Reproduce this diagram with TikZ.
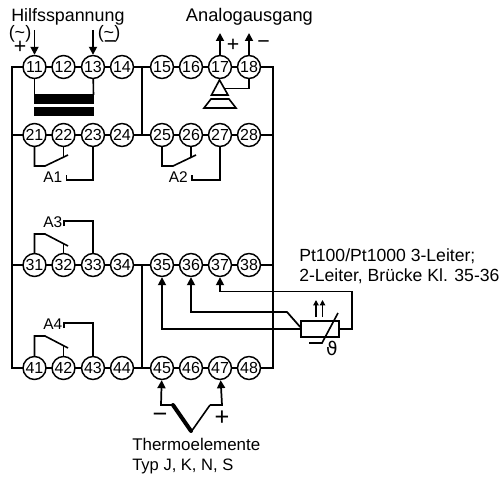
\documentclass[tikz,border=0pt]{standalone}
\usepackage{fontspec}
\setmainfont{Liberation Sans}
\newfontfamily\dejavu{DejaVu Sans}
\usetikzlibrary{arrows.meta}
\tikzset{
  term/.style={circle,draw,line width=1.1pt,fill=white,minimum size=17.2pt,inner sep=0pt,font=\fontsize{12}{12}\selectfont},
  wire/.style={line width=1.2pt},
  arr/.style={line width=1.3pt,-{Triangle[length=6pt,width=6pt]}},
  lbl/.style={inner sep=0pt,anchor=base west},
  rel/.style={lbl,font=\fontsize{11.6}{13}\selectfont},
  sgn/.style={inner sep=0pt,font=\fontsize{16}{16}\selectfont},
  sgnb/.style={inner sep=0pt,font=\fontsize{19}{19}\selectfont},
  tld/.style={inner sep=0pt,font=\fontsize{13.5}{13.5}\selectfont}
}
\begin{document}
\begin{tikzpicture}[x=0.75pt,y=-0.75pt]
\useasboundingbox (0,0) rectangle (503,478);
\foreach \n/\x/\y in {11/34.5/67,12/63.5/67,13/93/67,14/122/67,15/162/67,16/191/67,17/220/67,18/249/67,
 21/34.5/135,22/63.5/135,23/93/135,24/122/135,25/162/135,26/191/135,27/220/135,28/249/135,
 31/34.5/265,32/63.5/265,33/93/265,34/122/265,35/162/265,36/191/265,37/220/265,38/249/265,
 41/34.5/368,42/63.5/368,43/93/368,44/122/368,45/162/368,46/191/368,47/220/368,48/249/368}
 \coordinate (p\n) at (\x,\y);
% buses
\draw[wire] (p11) -- (11.7,67) -- (11.7,368) -- (p41);
\draw[wire] (11.7,135) -- (p21);
\draw[wire] (11.7,265) -- (p31);
\draw[wire] (p18) -- (272.8,67) -- (272.8,368) -- (p48);
\draw[wire] (272.8,135) -- (p28);
\draw[wire] (272.8,265) -- (p38);
\draw[wire] (141.8,67) -- (141.8,135);
\draw[wire] (141.8,265) -- (141.8,368);
\foreach \r in {1,2,3,4}{
  \draw[wire] (p\r1) -- (p\r8);
}
\foreach \n in {11,12,13,14,15,16,17,18,21,22,23,24,25,26,27,28,31,32,33,34,35,36,37,38,41,42,43,44,45,46,47,48}
  \node[term] (t\n) at (p\n) {\n};
% coil
\draw[wire] (t11) -- (34.5,95);
\draw[wire] (t13) -- (93.5,95);
\fill (34.3,94.3) rectangle (94.3,103.5);
\fill (34.3,106.7) rectangle (94.3,115.5);
% top arrows
\coordinate (a11) at (34.5,30);
\coordinate (a13) at (93,30);
\draw[arr] (a11) -- (t11);
\draw[arr] (a13) -- (t13);
\node[lbl,font=\fontsize{13.4}{14}\selectfont] (hilf) at (11,22) {Hilfsspannung};
\node[lbl,font=\fontsize{13.7}{14}\selectfont] (ana) at (185.7,22) {Analogausgang};
\node[tld] (tl1) at (20,34) {(\symbol{126})};
\node[tld] (tl2) at (109,34) {(\symbol{126})};
\node[sgn] (pl1) at (20,47) {+};
\node[sgn] (mi1) at (110,45) {\symbol{"2212}};
% analog
\coordinate (a17) at (220,33);
\coordinate (a18) at (249,33);
\draw[arr] (t17) -- (a17);
\draw[arr] (t18) -- (a18);
\node[sgn] (pl2) at (233,45) {+};
\node[sgn] (mi2) at (263.5,45) {\symbol{"2212}};
% amplifier
\draw[wire] (219.5,80) -- (211.5,95) -- (228,95) -- cycle;
\draw[wire] (211,99) -- (229,99) -- (236,108) -- (204,108) -- cycle;
\draw[wire] (t18) -- (249,88.5) -- (225,88.5);
% relays A1 A2
\draw[wire] (t21) -- (34.5,166) -- (45,166) -- (68,155);
\draw[wire] (t22) -- (63.5,157);
\draw[wire] (t25) -- (162,166) -- (173,166) -- (196,155);
\draw[wire] (t26) -- (191,157);
\node[rel] (A1) at (43,182.5) {A1};
\draw[wire] (66.5,175) -- (66.5,180) -- (93,180) -- (t23);
\node[rel] (A2) at (168.5,182.5) {A2};
\draw[wire] (192,175) -- (192,180) -- (220,180) -- (t27);
% relays A3 A4
\draw[wire] (t31) -- (34.5,234) -- (45,234) -- (68,246);
\draw[wire] (t32) -- (63.5,243);
\draw[wire] (t41) -- (34.5,336) -- (45,336) -- (68,348);
\draw[wire] (t42) -- (63.5,345);
\node[rel] (A3) at (43,227) {A3};
\draw[wire] (64,226) -- (64,221) -- (93,221) -- (t33);
\node[rel] (A4) at (43,329) {A4};
\draw[wire] (64,328) -- (64,323) -- (93,323) -- (t43);
% RTD
\node[draw,line width=1.2pt,minimum width=28.5pt,minimum height=12pt,inner sep=0pt] (rtd) at (320,329) {};
\draw[arr] (rtd.west) -- (162,329) -- (t35);
\draw[arr] (rtd.west) ++(0,-2) -- (287,312) -- (191,312) -- (t36);
\draw[arr] (rtd.east) -- (352,329) -- (352,291.5) -- (220,291.5) -- (t37);
\draw[wire] (338,313) -- (322,343) -- (309,343);
\draw[line width=1.1pt,-{Triangle[length=4pt,width=4pt]}] (316,317) -- (316,300);
\draw[line width=1.1pt,-{Triangle[length=4pt,width=4pt]}] (322.5,317) -- (322.5,300);
\node[inner sep=0pt,font=\dejavu\fontsize{14}{15}\selectfont] (theta) at (332,348) {ϑ};
\node[lbl,font=\fontsize{13.2}{14}\selectfont] (pt1) at (299,261) {Pt100/Pt1000 3-Leiter;};
\node[lbl,font=\fontsize{13.2}{14}\selectfont] (pt2) at (299,281.5) {2-Leiter, Brücke Kl. 35-36};
% thermocouple
\draw[arr] (173,405) -- (161,405) -- (t45);
\draw[arr] (210,405) -- (222,405) -- (t47);
\draw[line width=3pt,line cap=round] (173,405) -- (191,431);
\draw[wire] (191,432) -- (210,405);
\node[sgnb] (mi3) at (160,418) {\symbol{"2212}};
\node[sgnb] (pl3) at (222,418) {+};
\node[lbl,font=\fontsize{12.7}{14}\selectfont] (th1) at (132,450) {Thermoelemente};
\node[lbl,font=\fontsize{12.4}{14}\selectfont] (th2) at (132,470) {Typ J, K, N, S};
\end{tikzpicture}
\end{document}
